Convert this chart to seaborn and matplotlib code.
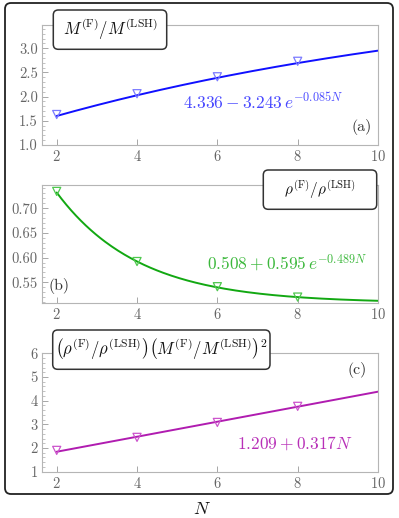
import numpy as np
import matplotlib
import matplotlib.pyplot as plt
import seaborn as sns
from matplotlib.patches import FancyBboxPatch
from matplotlib.ticker import MultipleLocator, FormatStrFormatter

matplotlib.use('Agg')

sns.set_style("white")
plt.rcParams['font.family'] = 'serif'
plt.rcParams['font.serif'] = ['cmr10', 'DejaVu Serif']
plt.rcParams['mathtext.fontset'] = 'cm'
plt.rcParams['axes.formatter.use_mathtext'] = True

# --- data ---
N_pts = [2, 4, 6, 8]
mass_ratio = [1.63, 2.06, 2.41, 2.73]
rho_ratio = [0.734, 0.592, 0.541, 0.520]
combined = [1.90, 2.45, 3.08, 3.76]

# fit coefficients shown on the panels
fit_a = (4.336, 3.243, 0.085)
fit_b = (0.508, 0.595, 0.489)
fit_c = (1.209, 0.317)

x_ticks = [2, 4, 6, 8, 10]

W, H = 399, 518
fig = plt.figure(figsize=(W / 100, H / 100), dpi=100)

def px_axes(left, right, top, bottom):
    return fig.add_axes([left / W, 1 - bottom / H, (right - left) / W, (bottom - top) / H])

N_fine = np.linspace(2, 10, 200)

panels = [
    dict(rect=(42, 378, 25, 145), pts=mass_ratio,
         curve=fit_a[0] - fit_a[1] * np.exp(-fit_a[2] * N_fine),
         line='#1010ff', marker='#7b7bff', text='#4848ff',
         ylim=(1.0, 3.48), major=0.5, minor=0.1, fmt='%.1f',
         eq=r'$4.336-3.243\,e^{-0.085N}$', eqpos=(7.13, 1.90),
         tag='(a)', tagpos=(9.59, 1.37)),
    dict(rect=(42, 378, 185, 303.3), pts=rho_ratio,
         curve=fit_b[0] + fit_b[1] * np.exp(-fit_b[2] * N_fine),
         line='#12a812', marker='#4fc84f', text='#3cb83c',
         ylim=(0.5074, 0.747), major=0.05, minor=0.01, fmt='%.2f',
         eq=r'$0.508+0.595\,e^{-0.489N}$', eqpos=(7.73, 0.589),
         tag='(b)', tagpos=(2.06, 0.5425)),
    dict(rect=(42, 378, 353.3, 471.7), pts=combined,
         curve=fit_c[0] + fit_c[1] * N_fine,
         line='#b01cb0', marker='#cc55cc', text='#b830b8',
         ylim=(1, 6), major=1, minor=0.2, fmt='%d',
         eq=r'$1.209+0.317N$', eqpos=(7.93, 2.21),
         tag='(c)', tagpos=(9.49, 5.29)),
]

for p in panels:
    ax = px_axes(*p['rect'])
    sns.lineplot(x=N_fine, y=p['curve'], color=p['line'], lw=1.4, ax=ax)
    sns.scatterplot(x=N_pts, y=p['pts'], marker='v', s=34, ax=ax, zorder=3)
    coll = ax.collections[-1]
    coll.set_facecolor('none')
    coll.set_edgecolor(p['marker'])
    coll.set_linewidth(0.9)
    ax.set_xlim(1.634, 10)
    ax.set_ylim(*p['ylim'])
    ax.set_xticks(x_ticks)
    ax.yaxis.set_major_locator(MultipleLocator(p['major']))
    ax.yaxis.set_minor_locator(MultipleLocator(p['minor']))
    ax.yaxis.set_major_formatter(FormatStrFormatter(p['fmt']))
    ax.tick_params(axis='both', which='major', direction='in', length=4, width=0.6,
                   color='#999999', labelcolor='#666666', labelsize=10.5, pad=3)
    ax.tick_params(axis='y', which='minor', direction='in', length=2, width=0.5,
                   color='#aaaaaa', left=True)
    ax.tick_params(axis='x', which='major', bottom=True)
    ax.tick_params(axis='y', which='major', left=True)
    for s in ax.spines.values():
        s.set_color('#b5b5b5')
        s.set_linewidth(0.8)
    ax.set_xlabel('')
    ax.set_ylabel('')
    ax.text(*p['eqpos'], p['eq'], color=p['text'], fontsize=12.5,
            ha='center', va='center')
    ax.text(*p['tagpos'], p['tag'], color='#333333', fontsize=11.5,
            ha='center', va='center')

# overlay in pixel coordinates for boxes and the shared label
ov = fig.add_axes([0, 0, 1, 1], zorder=10)
ov.set_xlim(0, W)
ov.set_ylim(H, 0)
ov.axis('off')
ov.patch.set_alpha(0)

ov.add_patch(FancyBboxPatch((5, 3), 388, 491, boxstyle='round,pad=0,rounding_size=6',
                            fc='none', ec='#222222', lw=1.3))

label_boxes = [
    ((53.3, 10, 113.4, 39.3), r'$M^{(\mathrm{F})}/M^{(\mathrm{LSH})}$', 12),
    ((263.3, 170, 113.4, 39.3), r'$\rho^{(\mathrm{F})}/\rho^{(\mathrm{LSH})}$', 11),
    ((52.7, 330, 217.3, 39.3),
     r'$\left(\rho^{(\mathrm{F})}/\rho^{(\mathrm{LSH})}\right)\left(M^{(\mathrm{F})}/M^{(\mathrm{LSH})}\right)^2$', 12),
]
for (x0, y0, w, h), txt, fs in label_boxes:
    ov.add_patch(FancyBboxPatch((x0, y0), w, h, boxstyle='round,pad=0,rounding_size=5',
                                fc='white', ec='#333333', lw=1.1))
    ov.text(x0 + w / 2, y0 + h / 2, txt, fontsize=fs, ha='center', va='center', color='#111111')

ov.text(201.7, 509, r'$N$', fontsize=13, ha='center', va='center', color='#111111')

fig.savefig('out.png', dpi=100)
